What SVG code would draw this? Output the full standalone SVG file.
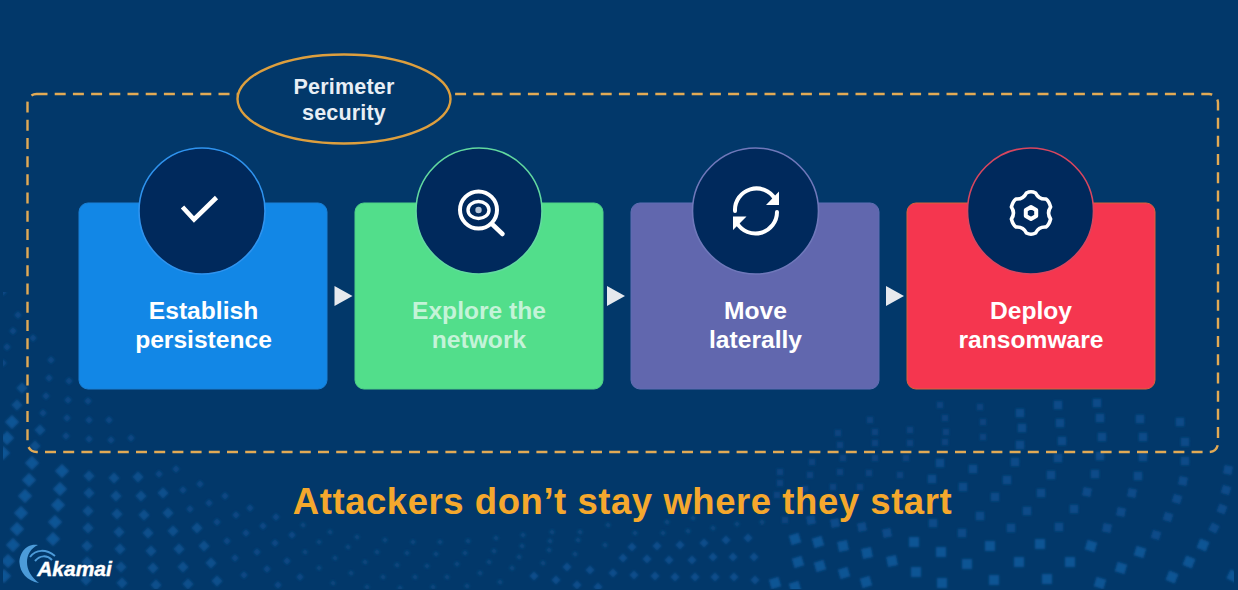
<svg xmlns="http://www.w3.org/2000/svg" width="1238" height="590" viewBox="0 0 1238 590">
<style>
text{font-family:"Liberation Sans",Arial,sans-serif;font-weight:700;text-anchor:middle}
.lbl{font-size:24.6px;fill:#fff}
.card{stroke-width:1}
.disc{fill:#00295c;stroke-width:1.6}
.ic{fill:none;stroke:#fff;stroke-width:4;stroke-linecap:round;stroke-linejoin:round}
.dots{fill:none;stroke-linecap:square}
</style>
<defs><filter id="soft" x="0" y="0" width="100%" height="100%"><feGaussianBlur stdDeviation="0.8"/></filter></defs>
<rect id="background" width="1238" height="590" fill="#02386a"/>
<g id="pattern" filter="url(#soft)">
<path class="dots" stroke="#0f5494" stroke-width="10" d="M32 463l.01.01M29 480l.01.01M25 496l.01.01M21 513l.01.01M17 529l.01.01M13 545l.01.01M8 561l.01.01M4 576l.01.01M3 453l.01.01M62 471l.01.01M60 489l.01.01M58 505l.01.01M55 522l.01.01M53 539l.01.01M7 438l.01.01M12 422l.01.01"/>
<path class="dots" stroke="#0d4f8c" stroke-width="8" d="M89 476l.01.01M89 493l.01.01M88 511l.01.01M88 528l.01.01M87 546l.01.01M87 562l.01.01M86 580l.01.01M114 478l.01.01M116 496l.01.01M117 514l.01.01M119 532l.01.01M120 549l.01.01M121 567l.01.01M122 583l.01.01M138 477l.01.01M141 496l.01.01M144 515l.01.01M148 533l.01.01M151 551l.01.01M153 568l.01.01M156 585l.01.01M163 493l.01.01M168 513l.01.01M173 531l.01.01M179 549l.01.01M183 567l.01.01M188 584l.01.01M197 528l.01.01M204 546l.01.01M211 563l.01.01M217 581l.01.01M40 430l.01.01M35 446l.01.01M17 405l.01.01M22 388l.01.01"/>
<path class="dots" stroke="#0c4a85" stroke-width="5.5" d="M159 474l.01.01M176 469l.01.01M183 490l.01.01M190 509l.01.01M200 484l.01.01M209 503l.01.01M217 522l.01.01M227 541l.01.01M235 558l.01.01M244 575l.01.01M225 496l.01.01M236 515l.01.01M246 533l.01.01M257 552l.01.01M267 569l.01.01M278 585l.01.01M250 508l.01.01M263 526l.01.01M275 543l.01.01M287 561l.01.01M300 577l.01.01M276 517l.01.01M292 535l.01.01M3 292l.01.01M18 315l.01.01M13 331l.01.01M33 338l.01.01M7 347l.01.01M3 363l.01.01M51 360l.01.01M49 378l.01.01M69 381l.01.01M46 396l.01.01M68 400l.01.01M88 401l.01.01M43 413l.01.01M67 418l.01.01M89 420l.01.01M109 420l.01.01M66 436l.01.01M89 439l.01.01M111 440l.01.01M131 438l.01.01"/>
<path class="dots" stroke="#0a477f" stroke-width="4.5" d="M303 525l.01.01M330 532l.01.01M357 537l.01.01M385 540l.01.01M413 542l.01.01M440 542l.01.01M468 541l.01.01M496 538l.01.01M523 535l.01.01M305 552l.01.01M335 558l.01.01M365 562l.01.01M397 565l.01.01M427 566l.01.01M457 564l.01.01M489 562l.01.01M519 557l.01.01M549 550l.01.01M578 540l.01.01M319 542l.01.01M348 547l.01.01M377 552l.01.01M407 553l.01.01M436 554l.01.01M465 553l.01.01M494 551l.01.01M522 546l.01.01M550 541l.01.01M319 568l.01.01M351 573l.01.01M383 577l.01.01M415 577l.01.01M447 577l.01.01M480 573l.01.01M512 568l.01.01M543 563l.01.01M575 554l.01.01M605 545l.01.01M500 582l.01.01M467 586l.01.01M433 587l.01.01M400 588l.01.01M367 587l.01.01M333 583l.01.01M608 525l.01.01M580 532l.01.01M552 532l.01.01M635 533l.01.01M667 522l.01.01M693 518l.01.01M663 533l.01.01M688 531l.01.01M713 528l.01.01M737 524l.01.01M762 522l.01.01"/>
<path class="dots" stroke="#0c4e8c" stroke-width="6.500" d="M632 547l.01.01M623 558l.01.01M647 559l.01.01M669 560l.01.01M692 560l.01.01M713 557l.01.01M733 557l.01.01M754 557l.01.01M590 570l.01.01M613 573l.01.01M634 575l.01.01M655 576l.01.01M675 577l.01.01M695 577l.01.01M715 577l.01.01M734 577l.01.01M755 580l.01.01M567 567l.01.01M534 576l.01.01M556 580l.01.01M577 585l.01.01M598 587l.01.01M657 546l.01.01M680 545l.01.01M704 543l.01.01M726 540l.01.01M748 538l.01.01"/>
<path class="dots" stroke="#0f5494" stroke-width="10" d="M775 583l.01-.003M795 587l.01-.003M844 573l.01-.003M866 582l.01-.003M916 572h.01M942 583h.01M967 564h.01M994 580h.01M1019 562h.01M1047 579h.01M1070 562h.01M1100 583l.01.003M1121 568l.01.003M1172 577l.01.004M1189 562l.01.004M1233 576l.01.005M798 562l.01-.003M820 566l.01-.003M892 561l.01-.002M867 553l.01-.002M843 546l.01-.002M818 542l.01-.003M795 539l.01-.003M941 552h.01M914 542h.01M990 546h.01M1040 544h.01M1091 546l.01.003M1140 552l.01.003M1203 545l.01.004"/>
<path class="dots" stroke="#0c4c89" stroke-width="8.500" d="M887 533l.01-.002M862 527l.01-.002M835 523l.01-.002M811 520l.01-.002M962 533h.01M933 523h.01M980 516h.01M1011 528h.01M1059 527h.01M1027 511h.01M995 497h.01M963 487h.01M932 479h.01M1074 509h.01M1041 493h.01M1007 480h.01M973 469h.01M940 463h.01M1107 528l.01.002M1121 512l.01.002M1087 492l.01.002M1051 475h.01M1015 462h.01M1156 535l.01.003M1168 517l.01.003M1132 493l.01.002M1095 474h.01M1058 458h.01M1214 528l.01.005M1222 509l.01.004M1226 490l.01.003M1228 470l.01.002M1177 499l.01.003M1183 481l.01.002M1185 461h.01M1185 442h.01M1180 422h.01M1138 476h.01M1143 457h.01M1143 437h.01M1140 419h.01M1100 456h.01M1102 437h.01M1100 418h.01M1097 403h.01M1062 441h.01M1060 423h.01M1058 405h.01M1020 445h.01M1022 428h.01M1020 413h.01"/>
<path class="dots" stroke="#094580" stroke-width="6.500" d="M983 422h.01M980 407h.01M983 437h.01M945 442h.01M946 432h.01M945 418h.01M940 405h.01M910 443h.01M910 430h.01M906 458h.01M875 443h.01M875 432h.01M870 420h.01M875 458h.01M840 445h.01M838 433h.01M843 458h.01M812 462h.01M810 475h.01M840 472h.01M869 473h.01M900 475h.01M860 487h.01M833 487h.01M805 489h.01M780 472h.01M780 483h.01M777 495h.01M785 520h.01"/>
</g>
<g id="perimeter">
<rect x="27.500" y="94" width="1190.500" height="358" rx="9" fill="none" stroke="#e2aa55" stroke-width="2.400" stroke-dasharray="11 7.200"/>
<g id="perimeter-label">
<ellipse cx="344" cy="99" rx="106.500" ry="44.500" fill="#02386a" stroke="#dd9f3e" stroke-width="2.400"/>
<text x="344" y="94" font-size="21.500" letter-spacing=".2" fill="#e8eef5">Perimeter</text>
<text x="344" y="120" font-size="21.500" letter-spacing=".2" fill="#e8eef5">security</text>
</g>
</g>
<g id="connectors" fill="#e6e9ee">
<path d="M334.500 286L352.500 296 334.500 306z"/>
<path d="M607 286L625 296 607 306z"/>
<path d="M886 286L904 296 886 306z"/>
</g>
<g id="node-establish">
<rect class="card" x="79" y="203" width="248" height="186" rx="9" fill="#1287e6" stroke="#1a80d6"/>
<circle class="disc" cx="202" cy="211" r="63" stroke="#2f93ee"/>
<path class="ic" d="M182.500 207L194 219.500 216.500 197.500" style="stroke-width:4.600;stroke-linecap:butt;stroke-linejoin:miter"/>
<text class="lbl" x="203.500" y="319">Establish</text>
<text class="lbl" x="203.500" y="348">persistence</text>
</g>
<g id="node-explore">
<rect class="card" x="355" y="203" width="248" height="186" rx="9" fill="#52de8b" stroke="#4ed088"/>
<circle class="disc" cx="479" cy="211" r="63" stroke="#62d9a0"/>
<circle class="ic" cx="478.500" cy="210" r="18.500"/>
<path class="ic" d="M492 224L502.500 234" style="stroke-width:4.500"/>
<ellipse class="ic" cx="478.500" cy="210" rx="10.500" ry="8.500" style="stroke-width:3.400"/>
<circle cx="478.500" cy="210" r="3.200" fill="#b8c7da"/>
<text class="lbl" x="479" y="319" style="fill:#c4f3d8">Explore the</text>
<text class="lbl" x="479" y="348" style="fill:#c4f3d8">network</text>
</g>
<g id="node-move">
<rect class="card" x="631" y="203" width="248" height="186" rx="9" fill="#6167ae" stroke="#5f6fb4"/>
<circle class="disc" cx="755.500" cy="211" r="63" stroke="#6f78ba"/>
<path class="ic" d="M735 211A21.500 21.500 0 0 1 775 199M777 212A21.500 21.500 0 0 1 737 223"/>
<path d="M779 191.500V205H766zM733 216.500H746.500L733 230z" fill="#fff"/>
<text class="lbl" x="755.500" y="319">Move</text>
<text class="lbl" x="755.500" y="348">laterally</text>
</g>
<g id="node-deploy">
<rect class="card" x="907" y="203" width="248" height="186" rx="9" fill="#f5364f" stroke="#d9653a" stroke-width="2"/>
<circle class="disc" cx="1030.500" cy="211" r="63" stroke="#d9465f"/>
<path class="ic" d="M1026.400 193Q1031 190.500 1035.600 193Q1038.750 199.600 1046 199Q1049 201 1050.600 207Q1046.500 213 1050.600 219Q1049 225 1046 227Q1038.750 226.400 1035.600 233Q1031 235.500 1026.400 233Q1023.250 226.400 1016 227Q1013 225 1011.400 219Q1015.500 213 1011.400 207Q1013 201 1016 199Q1023.250 199.600 1026.400 193z" style="stroke-width:3.600"/>
<path class="ic" d="M1031 207L1036.200 210V216L1031 219L1025.800 216V210z"/>
<text class="lbl" x="1031" y="319">Deploy</text>
<text class="lbl" x="1031" y="348">ransomware</text>
</g>
<g id="caption">
<text x="622.500" y="514" font-size="36.500" letter-spacing=".55" fill="#f5a82d">Attackers don’t stay where they start</text>
</g>
<g id="logo">
<path d="M38 545C25 543 19 555 19.500 563C20 572 27 581 39 583C31 577 27 570 27 562C27 555 31 548 38 545z" fill="#4c9bd9"/>
<path d="M30 557C36 549 46 549 55 556M35 561C40 555 47 555 52 560" fill="none" stroke="#4c9bd9" stroke-width="2"/>
<text x="74.500" y="576" font-size="21" font-style="italic" fill="#fff" stroke="#fff" stroke-width=".4">Akamai</text>
</g>
</svg>
